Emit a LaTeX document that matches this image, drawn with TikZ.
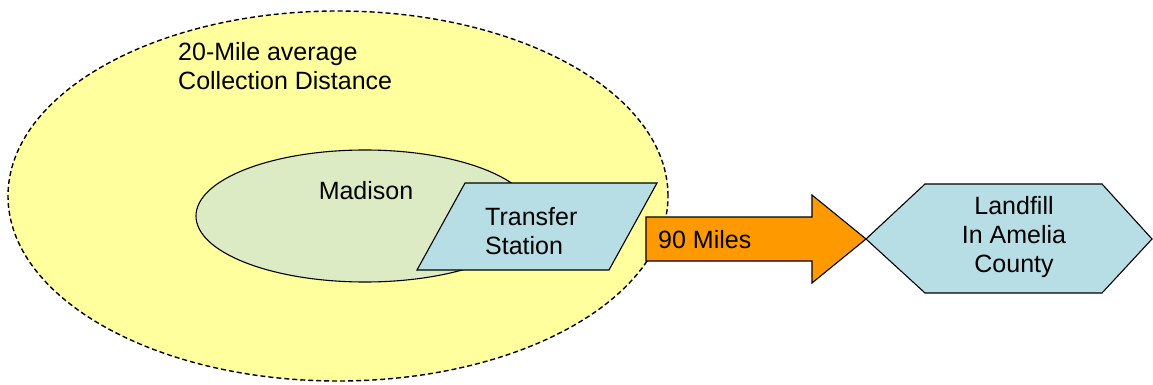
\documentclass[tikz,border=0pt]{standalone}
\usepackage{fontspec}
\setmainfont{Liberation Sans}
\usetikzlibrary{shapes.geometric}

\definecolor{gebietgelb}{RGB}{255,255,158}
\definecolor{madisongruen}{RGB}{221,235,196}
\definecolor{stationblau}{RGB}{183,222,228}
\definecolor{pfeilorange}{RGB}{255,153,0}

\tikzset{
    beschriftung/.style={font=\fontsize{25}{29}\selectfont, inner sep=0pt},
    flaeche/.style={draw=black, line width=1.1pt, line join=miter},
}

\begin{document}
\begin{tikzpicture}[x=1pt,y=-1pt]
    % Bildgröße
    \useasboundingbox (0,0) rectangle (1153,385);

    % Sammelgebiet
    \node[flaeche, ellipse, line width=1.4pt, dash pattern=on 5pt off 3pt, fill=gebietgelb,
          minimum width=660pt, minimum height=370pt] (gebiet) at (338,196) {};
    \node[beschriftung, anchor=north west, align=left] (gebiettext) at (178,42)
        {20-Mile average\\Collection Distance};

    % Madison
    \node[flaeche, ellipse, fill=madisongruen,
          minimum width=338pt, minimum height=132pt] (madison) at (365,216) {};
    \node[beschriftung] (madisontext) at (366,191) {Madison};

    % Umladestation
    \coordinate (station-nw) at (465,183);
    \coordinate (station-no) at (657,183);
    \coordinate (station-so) at (609,270);
    \coordinate (station-sw) at (417,270);
    \draw[flaeche, fill=stationblau]
        (station-nw) -- (station-no) -- (station-so) -- (station-sw) -- cycle;
    \node[beschriftung, anchor=north west, align=left] (station) at (485,207)
        {Transfer\\Station};

    % Pfeil (90 Meilen)
    \coordinate (spitze) at (866,239);
    \draw[flaeche, fill=pfeilorange]
        (646,217) -- (812,217) -- (812,195) -- (spitze)
        -- (812,283) -- (812,261) -- (646,261) -- cycle;
    \node[beschriftung, anchor=west] (meilen) at (658,240) {90 Miles};

    % Deponie
    \draw[flaeche, fill=stationblau]
        (spitze) -- (925,184) -- (1102,184) -- (1152,239)
        -- (1102,293) -- (925,293) -- cycle;
    \node[beschriftung, align=center] (deponie) at (1014,237)
        {Landfill\\In Amelia\\County};
\end{tikzpicture}
\end{document}
